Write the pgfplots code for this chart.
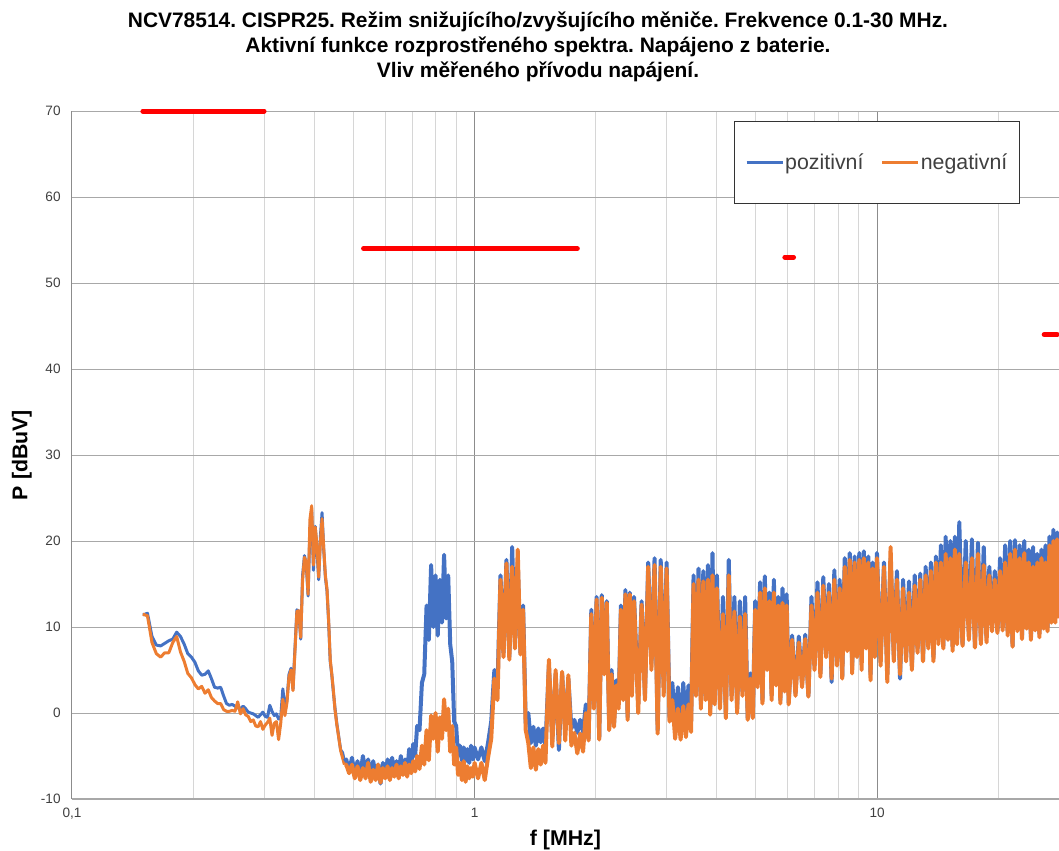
\documentclass[border=0pt]{standalone}
\usepackage{fontspec}
\setmainfont{Liberation Sans}
\usepackage{pgfplots}
\usepackage{pgfplotstable}
\pgfplotsset{compat=1.18}
\definecolor{cblue}{HTML}{4472C4}
\definecolor{corange}{HTML}{ED7D31}
\definecolor{cred}{HTML}{FF0000}
\definecolor{gmaj}{HTML}{8C8C8C}
\definecolor{gmin}{HTML}{D6D6D6}
\definecolor{gy}{HTML}{A8A8A8}
\definecolor{ctext}{HTML}{404040}

% smooth low-frequency part
\pgfplotstableread{
f b o
0.150 11.4 11.5
0.154 11.6 11.3
0.158 8.9 8.2
0.162 7.9 6.9
0.166 7.8 6.5
0.170 8.1 7.0
0.174 8.4 7.0
0.178 8.6 8.2
0.182 9.4 8.9
0.186 8.9 7.1
0.190 8.0 6.0
0.194 6.9 4.6
0.198 6.5 4.1
0.202 5.9 3.3
0.206 4.9 2.8
0.210 4.4 3.1
0.214 4.5 2.3
0.218 4.9 2.7
0.222 4.0 1.8
0.226 3.0 1.4
0.230 2.9 1.1
0.234 3.0 1.1
0.238 2.0 0.4
0.242 1.1 0.2
0.246 0.9 0.2
0.250 1.0 0.3
0.254 0.8 0.2
0.258 0.6 1.3
0.262 0.5 -0.1
0.266 0.8 0.5
0.270 0.5 -0.2
0.274 0.1 -0.4
0.278 0.0 -1.0
0.282 -0.1 -0.8
0.286 -0.3 -1.5
0.290 -0.5 -1.6
0.294 -0.2 -1.0
0.298 0.1 -1.9
0.302 -0.4 -1.4
0.306 -0.5 -1.1
0.310 0.9 -0.6
0.314 0.2 -2.6
0.318 -0.3 -1.2
0.322 -0.1 -1.0
0.326 -0.7 -3.1
0.330 -0.5 -1.2
0.334 2.8 1.6
0.338 0.5 -0.3
0.342 1.5 1.2
0.346 4.5 4.2
0.350 5.2 5.0
0.354 2.8 2.6
0.358 7.5 7.2
0.362 12.0 11.8
0.366 11.8 11.9
0.370 8.6 8.8
0.374 16.0 15.5
0.378 18.3 18.1
0.382 17.2 17.5
0.386 13.6 13.8
0.390 21.5 22.5
0.394 23.6 24.1
0.398 16.6 17.2
0.402 21.7 21.6
0.406 19.0 19.5
0.410 15.5 15.8
0.414 20.5 19.8
0.418 23.3 22.6
0.422 19.0 19.2
0.426 15.8 16.0
0.430 14.2 14.4
0.434 10.6 10.8
0.438 6.0 6.2
0.442 4.4 4.5
0.446 2.4 2.6
0.450 0.6 0.4
0.455 -1.3 -1.4
0.460 -2.8 -2.9
0.465 -4.3 -4.4
0.470 -4.6 -5.2
0.475 -5.6 -6.0
}\specA

% noisy part (alternating peak / trough readings)
\pgfplotstableread{
f b o
0.475 -5.6 -6.0
0.480 -5.4 -6.0
0.488 -6.8 -7.0
0.496 -5.2 -6.0
0.504 -7.2 -7.6
0.512 -5.6 -6.2
0.520 -7.4 -7.8
0.528 -5.0 -6.4
0.536 -7.0 -7.6
0.544 -5.4 -5.8
0.552 -7.6 -8.0
0.560 -5.6 -6.6
0.568 -7.2 -7.8
0.576 -6.0 -6.0
0.584 -8.2 -8.1
0.592 -5.8 -6.4
0.600 -7.4 -7.6
0.608 -5.4 -6.2
0.616 -7.0 -7.8
0.624 -5.2 -6.4
0.632 -7.0 -7.4
0.640 -5.6 -6.0
0.648 -6.8 -7.6
0.656 -5.0 -6.2
0.664 -6.8 -7.2
0.672 -5.4 -5.8
0.680 -7.0 -7.4
0.688 -4.2 -6.0
0.696 -6.4 -7.0
0.704 -3.6 -5.6
0.712 -5.0 -6.8
0.720 -1.5 -5.0
0.73 -2.0 -6.5
0.74 3.5 -3.8
0.75 4.5 -6.0
0.76 12.5 -2.0
0.77 8.5 -5.5
0.78 17.2 -0.3
0.79 10.0 -3.0
0.80 16.0 0.0
0.81 9.0 -4.5
0.82 15.5 -0.5
0.83 10.5 -3.0
0.84 18.4 1.6
0.85 11.0 -2.0
0.86 16.0 0.5
0.87 8.0 -4.5
0.88 6.0 -1.5
0.89 -1.0 -6.0
0.90 -1.5 -4.0
0.91 -5.0 -7.2
0.92 -3.8 -5.8
0.93 -5.5 -7.8
0.94 -4.0 -5.6
0.95 -5.6 -8.0
0.96 -4.2 -6.2
0.97 -5.8 -7.6
0.98 -3.8 -6.4
0.99 -5.4 -7.4
1.00 -4.0 -5.8
1.02 -5.4 -7.6
1.04 -4.0 -5.8
1.06 -5.6 -7.8
1.08 -3.5 -5.2
1.10 -1.0 -3.0
1.12 5.0 4.0
1.14 3.0 1.5
1.16 16.0 15.5
1.18 7.0 6.5
1.20 17.8 17.4
1.22 6.5 6.2
1.24 19.3 17.0
1.26 8.0 7.5
1.28 17.5 19.0
1.30 7.0 6.8
1.32 12.5 12.0
1.34 -1.2 -2.0
1.36 0.0 -3.5
1.38 -3.5 -6.4
1.40 -1.6 -4.0
1.42 -3.8 -6.6
1.44 -1.8 -4.2
1.46 -3.4 -6.0
1.48 -1.8 -3.8
1.50 -3.8 -5.8
1.53 5.5 6.2
1.56 -3.0 -3.9
1.59 4.5 5.0
1.62 -4.3 -3.5
1.65 4.6 4.8
1.68 -2.0 -3.2
1.71 4.0 4.4
1.74 -1.8 -3.8
1.77 -0.8 -2.3
1.80 -2.3 -4.7
1.83 -0.8 -2.4
1.86 -2.2 -4.5
1.89 1.0 0.0
1.92 -3.0 -3.2
1.95 12.0 11.5
1.98 1.0 0.5
2.01 13.5 13.2
2.04 -3.0 -3.1
2.07 13.7 13.4
2.10 5.0 4.5
2.13 13.0 12.8
2.16 -1.5 -2.0
2.19 5.0 4.5
2.22 -1.2 -1.6
2.25 3.8 3.2
2.28 1.0 0.5
2.31 12.5 12.0
2.34 2.0 1.5
2.37 14.3 13.8
2.40 -0.5 -0.8
2.43 14.0 13.8
2.46 3.0 2.0
2.49 13.5 13.0
2.55 1.0 0.0
2.60 13.0 12.6
2.65 2.0 1.5
2.70 17.5 17.0
2.75 5.8 5.0
2.80 18.0 17.2
2.85 -2.0 -2.4
2.90 17.8 17.0
2.95 3.0 2.0
3.00 17.5 16.8
3.05 -0.5 -1.0
3.10 3.5 1.5
3.15 -1.5 -3.0
3.20 3.0 0.5
3.25 -2.0 -3.1
3.30 3.5 0.8
3.35 -1.5 -2.8
3.40 3.2 1.0
3.45 -1.0 -2.2
3.50 16.0 15.0
3.55 2.5 2.0
3.60 16.8 15.5
3.65 1.0 0.5
3.70 16.5 15.3
3.75 2.0 1.5
3.80 17.2 15.5
3.85 0.5 -0.2
3.90 18.6 16.0
3.95 1.5 1.0
4.00 16.0 14.5
4.07 1.0 0.5
4.14 13.5 11.5
4.21 -0.5 -0.6
4.28 17.8 16.0
4.35 2.0 1.5
4.42 13.5 11.8
4.49 0.5 0.0
4.56 13.0 11.2
4.63 2.5 2.0
4.70 13.5 11.5
4.77 -0.6 -0.8
4.84 4.6 4.0
4.91 -0.5 -0.6
4.98 13.0 12.0
5.05 3.5 3.0
5.12 15.2 14.0
5.19 1.5 1.1
5.26 15.9 14.5
5.33 5.5 5.0
5.40 14.0 13.0
5.47 2.0 1.5
5.54 15.5 14.0
5.61 4.0 3.2
5.68 13.5 12.5
5.75 1.5 1.1
5.82 14.5 12.8
5.89 3.0 2.5
5.96 13.8 12.5
6.03 1.2 1.0
6.15 9.0 8.5
6.27 2.3 2.0
6.39 8.9 8.2
6.51 3.5 3.0
6.63 9.1 8.6
6.75 2.0 1.9
6.87 13.5 12.5
6.99 5.5 5.0
7.11 15.2 14.0
7.23 4.6 4.2
7.35 15.8 14.8
7.47 7.0 6.5
7.59 15.0 14.0
7.71 3.6 4.0
7.83 16.6 15.5
7.95 6.0 5.5
8.07 15.5 14.5
8.19 4.2 4.0
8.31 18.0 17.0
8.43 7.7 7.2
8.55 18.6 17.8
8.67 5.5 4.6
8.79 18.2 17.5
8.91 7.0 6.5
9.03 18.6 17.8
9.15 6.0 5.0
9.27 18.8 18.0
9.39 8.0 7.5
9.51 18.2 17.5
9.63 4.5 3.8
9.75 17.5 16.8
9.87 7.0 6.5
9.99 18.6 18.0
10.2 6.0 5.5
10.4 17.5 17.0
10.6 4.5 3.6
10.8 18.0 19.3
11.0 6.6 6.0
11.2 16.5 15.5
11.4 4.0 4.5
11.6 15.5 14.5
11.8 6.5 6.0
12.0 15.3 14.0
12.2 5.5 5.0
12.4 16.0 14.8
12.6 7.5 7.0
12.8 16.2 15.5
13.0 6.2 6.0
13.2 17.0 16.0
13.4 8.0 7.5
13.6 17.5 16.5
13.8 6.5 6.0
14.0 18.2 17.5
14.2 8.5 8.0
14.4 19.5 17.5
14.6 7.8 7.5
14.8 20.5 18.5
15.0 9.0 8.5
15.2 20.0 18.0
15.4 7.7 7.2
15.6 20.5 19.0
15.8 8.5 8.0
16.0 22.2 18.5
16.3 8.0 7.8
16.6 20.0 17.5
16.9 9.0 8.5
17.2 20.2 18.0
17.5 7.7 7.6
17.8 19.8 18.5
18.1 8.5 8.0
18.4 19.3 17.2
18.7 8.8 8.2
19.0 17.0 16.0
19.3 10.0 9.5
19.6 16.5 15.5
19.9 9.5 9.3
20.2 18.0 16.5
20.5 10.0 9.6
20.8 19.5 17.5
21.1 9.5 9.0
21.4 20.0 18.5
21.7 7.8 7.7
22.0 20.1 19.0
22.3 10.0 9.5
22.6 19.5 18.0
22.9 9.0 8.6
23.2 20.0 18.6
23.5 10.2 9.8
23.8 19.0 17.5
24.1 8.8 8.5
24.4 19.3 17.0
24.7 10.0 9.6
25.0 18.5 17.5
25.3 9.2 8.8
25.6 19.0 18.0
25.9 10.3 9.8
26.2 19.5 17.5
26.5 10.0 9.5
26.8 20.5 19.5
27.1 11.0 10.5
27.4 21.3 20.0
27.7 11.2 10.5
28.0 21.0 20.2
28.3 12.0 11.0
}\specB

\begin{document}
\frenchspacing
\begin{tikzpicture}
\path[use as bounding box] (-54pt,-38.25pt) rectangle (740.25pt,599.25pt);
\begin{axis}[
  at={(0pt,0pt)}, anchor=south west,
  scale only axis, width=740.25pt, height=516pt,
  xmode=log, log basis x=10,
  xmin=0.1, xmax=28.3, ymin=-10, ymax=70,
  clip=false,
  xtick={0.1,1,10}, xticklabels={{0,1},1,10},
  minor xtick={0.2,0.3,0.4,0.5,0.6,0.7,0.8,0.9,2,3,4,5,6,7,8,9,20},
  ytick={-10,0,10,20,30,40,50,60,70},
  major tick length=0pt, minor tick length=0pt,
  xmajorgrids, xminorgrids,
  major grid style={color=gmaj, line width=0.75pt},
  minor grid style={color=gmin, line width=0.75pt},
  extra y ticks={0,10,20,30,40,50,60,70},
  extra y tick labels={},
  extra y tick style={grid=major, major grid style={color=gy, line width=0.75pt}},
  axis line style={draw=none},
  /pgf/number format/assume math mode=true,
  tick label style={font=\fontsize{10.2}{12}\selectfont, text=ctext},
  xticklabel style={yshift=-3pt},
  yticklabel style={xshift=-5pt},
  xlabel={f [MHz]}, ylabel={P [dBuV]},
  label style={font=\bfseries\fontsize{16}{19}\selectfont},
  xlabel style={at={(axis description cs:0.5,-0.0600)}, anchor=center},
  ylabel style={at={(axis description cs:-0.0507,0.5)}, anchor=center},
  legend columns=2,
  legend style={at={(axis description cs:0.9605,0.9855)}, anchor=north east,
    draw=black!80, line width=0.9pt, fill=white, text=ctext,
    font=\fontsize{16}{19}\selectfont,
    inner xsep=8pt, inner ysep=22pt,
    nodes={inner xsep=1pt},
    /tikz/every even column/.append style={column sep=12pt}},
  legend image code/.code={\draw[#1, line width=2pt] (0pt,0pt) -- (27pt,0pt);},
]
\addplot[cblue, line width=2.25pt, line join=round] table[x=f,y=b]{\specA};
\addlegendentry{pozitivní}
\addplot[corange, line width=2.25pt, line join=round] table[x=f,y=o]{\specA};
\addlegendentry{negativní}
\addplot[cblue, line width=3pt, line join=round, forget plot] table[x=f,y=b]{\specB};
\addplot[corange, line width=3pt, line join=round, forget plot] table[x=f,y=o]{\specB};
\addplot[cred, line width=3.75pt, line cap=round, forget plot] coordinates {(0.15,70) (0.3,70)};
\addplot[cred, line width=3.75pt, line cap=round, forget plot] coordinates {(0.53,54) (1.8,54)};
\addplot[cred, line width=3.75pt, line cap=round, forget plot] coordinates {(5.9,53) (6.2,53)};
\addplot[cred, line width=3.75pt, line cap=round, forget plot] coordinates {(26,44) (28,44)};
\draw[color=gy, line width=1.2pt] (axis description cs:0,0) -- (axis description cs:1,0);
\end{axis}
\node[align=center, font=\bfseries\fontsize{15.7}{18.75}\selectfont, anchor=center] at (349.5pt,564pt)
  {NCV78514. CISPR25. Režim snižujícího/zvyšujícího měniče. Frekvence 0.1-30 MHz.\\
   Aktivní funkce rozprostřeného spektra. Napájeno z baterie.\\
   Vliv měřeného přívodu napájení.};
\end{tikzpicture}
\end{document}
